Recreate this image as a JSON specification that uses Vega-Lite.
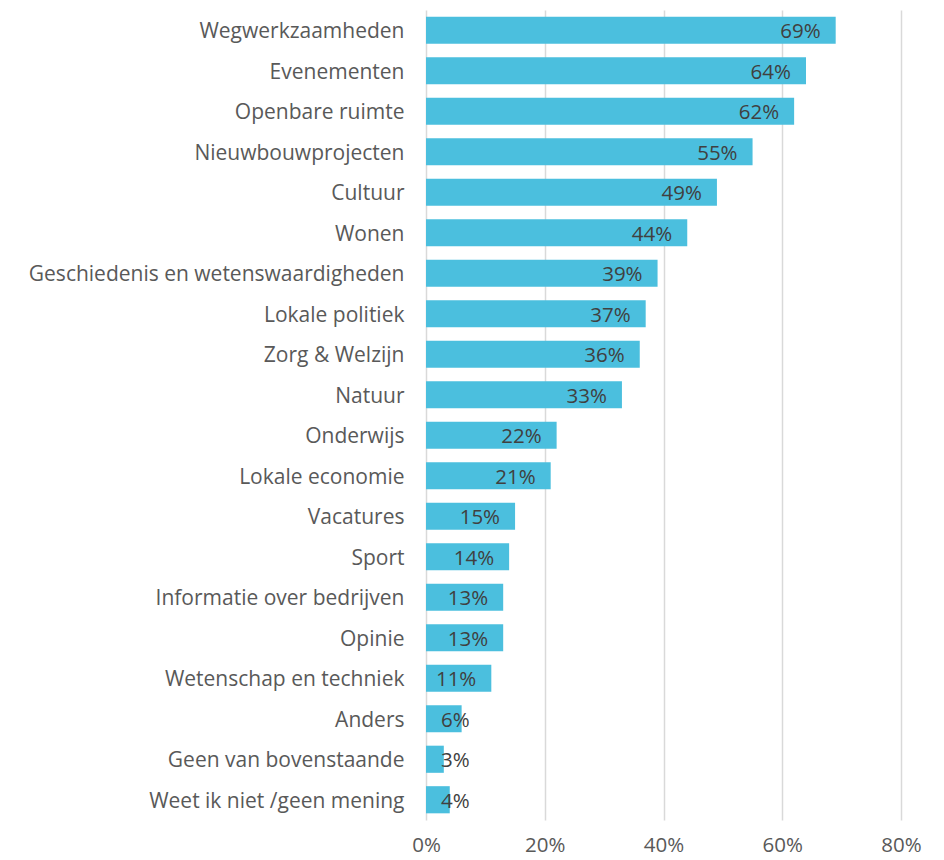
{
  "$schema": "https://vega.github.io/schema/vega-lite/v6.json",
  "autosize": "none",
  "width": 475,
  "height": 810,
  "padding": {"left": 426, "top": 10, "right": 43, "bottom": 40},
  "background": "white",
  "config": {"view": {"stroke": null}, "font": "Open Sans"},
  "data": {"values": [
    {"cat": "Wegwerkzaamheden", "v": 69},
    {"cat": "Evenementen", "v": 64},
    {"cat": "Openbare ruimte", "v": 62},
    {"cat": "Nieuwbouwprojecten", "v": 55},
    {"cat": "Cultuur\u00a0", "v": 49},
    {"cat": "Wonen", "v": 44},
    {"cat": "Geschiedenis en wetenswaardigheden", "v": 39},
    {"cat": "Lokale politiek", "v": 37},
    {"cat": "Zorg & Welzijn", "v": 36},
    {"cat": "Natuur", "v": 33},
    {"cat": "Onderwijs", "v": 22},
    {"cat": "Lokale economie", "v": 21},
    {"cat": "Vacatures", "v": 15},
    {"cat": "Sport", "v": 14},
    {"cat": "Informatie over bedrijven", "v": 13},
    {"cat": "Opinie", "v": 13},
    {"cat": "Wetenschap en techniek", "v": 11},
    {"cat": "Anders", "v": 6},
    {"cat": "Geen van bovenstaande", "v": 3},
    {"cat": "Weet ik niet /geen mening", "v": 4}
  ]},
  "transform": [{"calculate": "datum.v + '%'", "as": "lbl"}],
  "encoding": {
    "y": {"field": "cat", "type": "nominal", "sort": null,
      "scale": {"paddingInner": 0.33, "paddingOuter": 0.165},
      "axis": {"title": null, "domain": false, "ticks": false, "labelFont": "Open Sans", "labelFontSize": 21, "labelColor": "#595959", "labelPadding": 22, "labelLimit": 420, "labelOffset": 2}},
    "x": {"field": "v", "type": "quantitative",
      "scale": {"domain": [0, 80], "nice": false},
      "axis": {"title": null, "domain": false, "ticks": false, "values": [0, 20, 40, 60, 80], "labelExpr": "datum.value + '%'", "labelFont": "Open Sans", "labelFontSize": 20.5, "labelColor": "#595959", "labelPadding": 15, "gridColor": "#D9D9D9", "gridWidth": 1.5, "labelFlush": false}}
  },
  "layer": [
    {"mark": {"type": "bar", "color": "#4BBFDE"}},
    {"transform": [{"filter": "datum.v >= 8"}],
      "mark": {"type": "text", "align": "right", "dx": -15, "dy": 2, "fontSize": 20.5, "color": "#404040", "font": "Open Sans"},
      "encoding": {"text": {"field": "lbl", "type": "nominal"}, "x": {"field": "v", "type": "quantitative"}}},
    {"transform": [{"filter": "datum.v < 8"}],
      "mark": {"type": "text", "align": "left", "dx": 15, "dy": 2, "fontSize": 20.5, "color": "#404040", "font": "Open Sans"},
      "encoding": {"text": {"field": "lbl", "type": "nominal"}, "x": {"datum": 0}}}
  ]
}
